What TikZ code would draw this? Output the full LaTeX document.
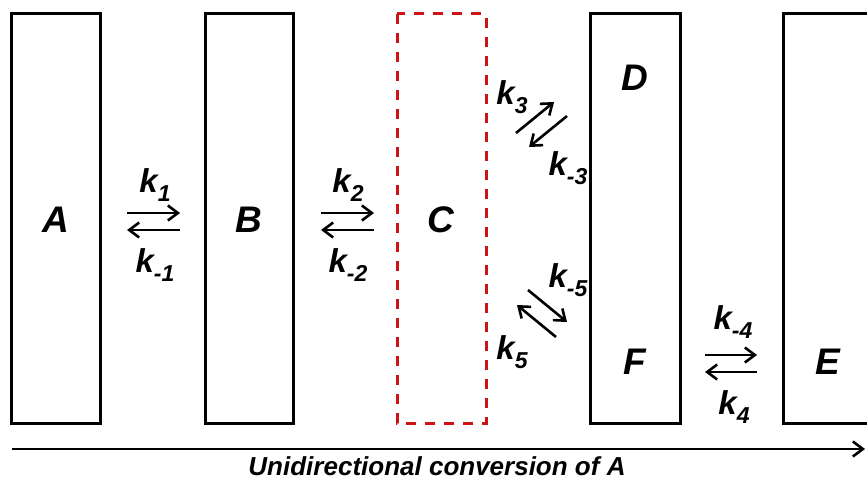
\documentclass[tikz,border=0pt]{standalone}
\usepackage{fontspec}
\setmainfont{Liberation Sans}
\usetikzlibrary{arrows.meta}
\definecolor{dred}{RGB}{204,20,20}
\newcommand{\kk}[1]{k\raisebox{-0.28em}{\fontsize{23}{23}\selectfont #1}}
\begin{document}
\begin{tikzpicture}[x=1pt,y=-1pt,
  box/.style={draw=black,line width=3pt},
  cbox/.style={draw=dred,line width=3pt,dash pattern=on 10pt off 9pt},
  big/.style={font=\fontsize{37}{37}\selectfont\bfseries\itshape},
  klab/.style={font=\fontsize{33}{33}\selectfont\bfseries\itshape,inner sep=0pt},
  rx/.style={line width=2.6pt,-{Straight Barb[length=10pt,width=15pt,line width=2.6pt]}}]
\useasboundingbox (0,0) rectangle (867,481);
% boxes
\draw[box] (11,14) rectangle (100,423);
\draw[box] (205,14) rectangle (293,423);
\draw[cbox] (397,14) rectangle (486,423);
\draw[box] (590,14) rectangle (680,423);
\draw[box] (875,14) -- (783,14) -- (783,423) -- (875,423);
% box labels
\node[big] (A) at (56,220) {A};
\node[big] (B) at (249,220) {B};
\node[big] (C) at (441,220) {C};
\node[big] (D) at (635,78) {D};
\node[big] (F) at (635,362) {F};
\node[big] (E) at (828,362) {E};
% A <-> B
\coordinate (ab1) at (127,213); \coordinate (ab2) at (180,213);
\coordinate (ab3) at (180,230); \coordinate (ab4) at (127,230);
\draw[rx] (ab1) -- (ab2); \draw[rx] (ab3) -- (ab4);
\node[klab] (k1) at (155,185) {\kk{1}};
\node[klab] (km1) at (155,265) {\kk{-1}};
% B <-> C
\coordinate (bc1) at (321,213); \coordinate (bc2) at (374,213);
\coordinate (bc3) at (374,230); \coordinate (bc4) at (321,230);
\draw[rx] (bc1) -- (bc2); \draw[rx] (bc3) -- (bc4);
\node[klab] (k2) at (348,185) {\kk{2}};
\node[klab] (km2) at (348,265) {\kk{-2}};
% C <-> D
\coordinate (cd1) at (516,133); \coordinate (cd2) at (554,102);
\coordinate (cd3) at (567,116); \coordinate (cd4) at (529,147);
\draw[rx] (cd1) -- (cd2); \draw[rx] (cd3) -- (cd4);
\node[klab] (k3) at (512,97) {\kk{3}};
\node[klab] (km3) at (568,168) {\kk{-3}};
% C <-> F
\coordinate (cf1) at (528,290); \coordinate (cf2) at (567,322);
\coordinate (cf3) at (556,337); \coordinate (cf4) at (517,305);
\draw[rx] (cf1) -- (cf2); \draw[rx] (cf3) -- (cf4);
\node[klab] (km5) at (568,280) {\kk{-5}};
\node[klab] (k5) at (512,352) {\kk{5}};
% F <-> E
\coordinate (fe1) at (705,355); \coordinate (fe2) at (757,355);
\coordinate (fe3) at (757,372); \coordinate (fe4) at (705,372);
\draw[rx] (fe1) -- (fe2); \draw[rx] (fe3) -- (fe4);
\node[klab] (km4) at (733,322) {\kk{-4}};
\node[klab] (k4) at (734,407) {\kk{4}};
% bottom axis
\coordinate (ax1) at (12,449); \coordinate (ax2) at (865,449);
\draw[rx] (ax1) -- (ax2);
\node[font=\fontsize{26}{26}\selectfont\bfseries\itshape] (lab) at (437,466) {Unidirectional conversion of A};
\end{tikzpicture}
\end{document}
